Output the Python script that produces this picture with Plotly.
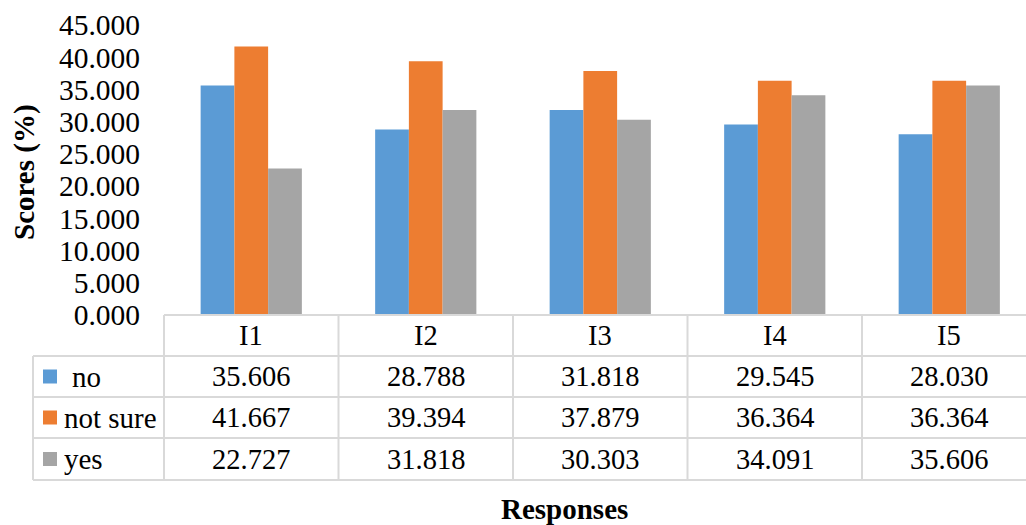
import plotly.graph_objects as go

# Chart data
categories = ["I1", "I2", "I3", "I4", "I5"]
series_names = ["no", "not sure", "yes"]
no_values = [35.606, 28.788, 31.818, 29.545, 28.030]
not_sure_values = [41.667, 39.394, 37.879, 36.364, 36.364]
yes_values = [22.727, 31.818, 30.303, 34.091, 35.606]
y_ticks = [0, 5, 10, 15, 20, 25, 30, 35, 40, 45]

series_values = [no_values, not_sure_values, yes_values]
colors = ["#5B9BD5", "#ED7D31", "#A5A5A5"]

# Page geometry (pixels)
W, H = 1026, 525
M_L, M_R, M_T, M_B = 164, 0, 25, 210
plot_w = W - M_L - M_R
plot_h = H - M_T - M_B
cat_w = 174.5
x_range = [-0.5, -0.5 + plot_w / cat_w]

FONT = '"Liberation Serif", "Times New Roman", serif'
GRID = "#D9D9D9"
TABLE_SIZE = 28.5
LABEL_SIZE = 29
TICK_SIZE = 29.5


def py(pixel_y):
    """Pixel row -> paper y."""
    return (H - M_B - pixel_y) / plot_h


def px(pixel_x):
    """Pixel column -> paper x."""
    return (pixel_x - M_L) / plot_w


def xp(v):
    """Category coordinate -> paper x."""
    return (v - x_range[0]) / (x_range[1] - x_range[0])


fig = go.Figure()
for name, vals, col in zip(series_names, series_values, colors):
    fig.add_trace(go.Bar(
        name=name, x=categories, y=vals,
        marker=dict(color=col, line=dict(width=0)),
        showlegend=False,
    ))

# Data table under the plot
row_lines = [356, 397, 438, 480]
row_centers = [376.5, 417.5, 459]
header_center = 335.5
shapes = []
line = dict(color=GRID, width=2)
# horizontal rules
shapes.append(dict(type="line", xref="paper", yref="paper",
                   x0=0, x1=1, y0=py(315), y1=py(315), line=line))
for ry in row_lines:
    shapes.append(dict(type="line", xref="paper", yref="paper",
                       x0=px(33), x1=1, y0=py(ry), y1=py(ry), line=line))
# vertical rules
shapes.append(dict(type="line", xref="paper", yref="paper",
                   x0=px(33), x1=px(33), y0=py(356), y1=py(480), line=line))
shapes.append(dict(type="line", xref="paper", yref="paper",
                   x0=0, x1=0, y0=py(315), y1=py(480), line=line))
for i in range(len(categories) - 1):
    xv = xp(i + 0.5)
    shapes.append(dict(type="line", xref="paper", yref="paper",
                       x0=xv, x1=xv, y0=py(315), y1=py(480), line=line))
# legend keys
for rc, col in zip(row_centers, colors):
    shapes.append(dict(type="rect", xref="paper", yref="paper",
                       x0=px(43), x1=px(57), y0=py(rc - 7), y1=py(rc + 7),
                       fillcolor=col, line=dict(width=0)))

annotations = []
for i, c in enumerate(categories):
    annotations.append(dict(text=c, x=xp(i), y=py(header_center),
                            xref="paper", yref="paper", showarrow=False,
                            font=dict(family=FONT, size=TABLE_SIZE, color="black"),
                            xanchor="center", yanchor="middle"))
for name, vals, rc in zip(series_names, series_values, row_centers):
    label_x = 70 if name == "no" else 62
    annotations.append(dict(text=name, x=px(label_x), y=py(rc),
                            xref="paper", yref="paper", showarrow=False,
                            font=dict(family=FONT, size=LABEL_SIZE, color="black"),
                            xanchor="left", yanchor="middle"))
    for i, v in enumerate(vals):
        annotations.append(dict(text=f"{v:.3f}", x=xp(i), y=py(rc),
                                xref="paper", yref="paper", showarrow=False,
                                font=dict(family=FONT, size=TABLE_SIZE, color="black"),
                                xanchor="center", yanchor="middle"))
# axis titles
annotations.append(dict(text="<b>Responses</b>", x=px(564), y=py(509),
                        xref="paper", yref="paper", showarrow=False,
                        font=dict(family=FONT, size=LABEL_SIZE, color="black"),
                        xanchor="center", yanchor="middle"))
annotations.append(dict(text="<b>Scores (%)</b>", x=px(24), y=py(172),
                        xref="paper", yref="paper", showarrow=False,
                        textangle=-90,
                        font=dict(family=FONT, size=LABEL_SIZE, color="black"),
                        xanchor="center", yanchor="middle"))

fig.update_layout(
    width=W, height=H,
    margin=dict(l=M_L, r=M_R, t=M_T, b=M_B, pad=0),
    paper_bgcolor="white", plot_bgcolor="white",
    barmode="group", bargap=0.42, bargroupgap=0,
    font=dict(family=FONT, size=TABLE_SIZE, color="black"),
    xaxis=dict(range=x_range, showticklabels=False, showgrid=False,
               zeroline=False, showline=False, ticks=""),
    yaxis=dict(range=[0, 45], tickvals=y_ticks, tickformat=".3f",
               showgrid=False, zeroline=False, showline=False,
               ticks="", ticklabelstandoff=23,
               tickfont=dict(family=FONT, size=TICK_SIZE, color="black")),
    shapes=shapes,
    annotations=annotations,
)

fig.write_html("out.html")
